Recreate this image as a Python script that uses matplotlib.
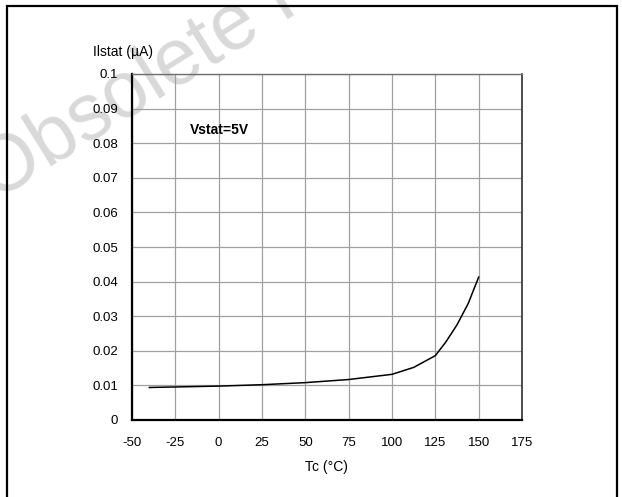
import matplotlib
matplotlib.use("Agg")
import matplotlib.pyplot as plt
from matplotlib.patches import Rectangle

plt.rcParams['font.family'] = ['Liberation Sans', 'DejaVu Sans']

# Data
temp_c = [-40, 0, 25, 50, 75, 100, 112.5, 125, 131, 137.5, 144, 150]
istat_ua = [0.0094, 0.0098, 0.0102, 0.0108, 0.0117, 0.0132, 0.0152, 0.0186,
            0.0225, 0.0275, 0.0337, 0.0413]
x_ticks = [-50, -25, 0, 25, 50, 75, 100, 125, 150, 175]
y_ticks = [0, 0.01, 0.02, 0.03, 0.04, 0.05, 0.06, 0.07, 0.08, 0.09, 0.1]
y_tick_labels = ['0', '0.01', '0.02', '0.03', '0.04', '0.05', '0.06',
                 '0.07', '0.08', '0.09', '0.1']

W, H = 622, 497
fig = plt.figure(figsize=(W / 100, H / 100), dpi=100)
fig.patch.set_facecolor('white')

# watermark (drawn beneath the axes)
fig.text(-0.008, 0.595, 'Obsolete Product(s)', fontsize=57, color='#d9d9d9',
         rotation=32, rotation_mode='anchor', ha='left', va='baseline', zorder=-5)

# outer border
fig.patches.append(Rectangle((7 / W, -0.02), 610 / W, 1 - 6 / H + 0.02,
                             transform=fig.transFigure, fill=False,
                             edgecolor='black', linewidth=1.6, zorder=5))

ax = fig.add_axes([132 / W, 1 - 420 / H, 390 / W, 346 / H])
ax.set_zorder(1)
ax.set_facecolor('none')
ax.plot(temp_c, istat_ua, color='black', linewidth=1.1, zorder=3)

ax.set_xlim(-50, 175)
ax.set_ylim(0, 0.1)
ax.set_xticks(x_ticks)
ax.set_xticklabels([str(v) for v in x_ticks])
ax.set_yticks(y_ticks)
ax.set_yticklabels(y_tick_labels)
ax.tick_params(axis='both', length=0, labelsize=9.5, colors='black')
ax.tick_params(axis='x', pad=12)
ax.tick_params(axis='y', pad=10)
ax.grid(True, color='#a0a0a0', linewidth=0.9, zorder=1)
ax.set_axisbelow(True)

ax.spines['left'].set_linewidth(1.6)
ax.spines['bottom'].set_linewidth(1.6)
ax.spines['left'].set_color('black')
ax.spines['bottom'].set_color('black')
ax.spines['right'].set_color('#303030')
ax.spines['right'].set_linewidth(1.2)
ax.spines['top'].set_color('#707070')
ax.spines['top'].set_linewidth(1.0)

ax.text(0.2, 0.0838, 'Vstat=5V', fontsize=10, fontweight='bold',
        ha='center', va='center')

fig.text(123 / W, 1 - 52 / H, 'Ilstat (µA)', fontsize=10, ha='center', va='center',
         zorder=2)
fig.text(326 / W, 1 - 467 / H, 'Tc (°C)', fontsize=10, ha='center', va='center',
         zorder=2)

fig.savefig('out.png', dpi=100)
